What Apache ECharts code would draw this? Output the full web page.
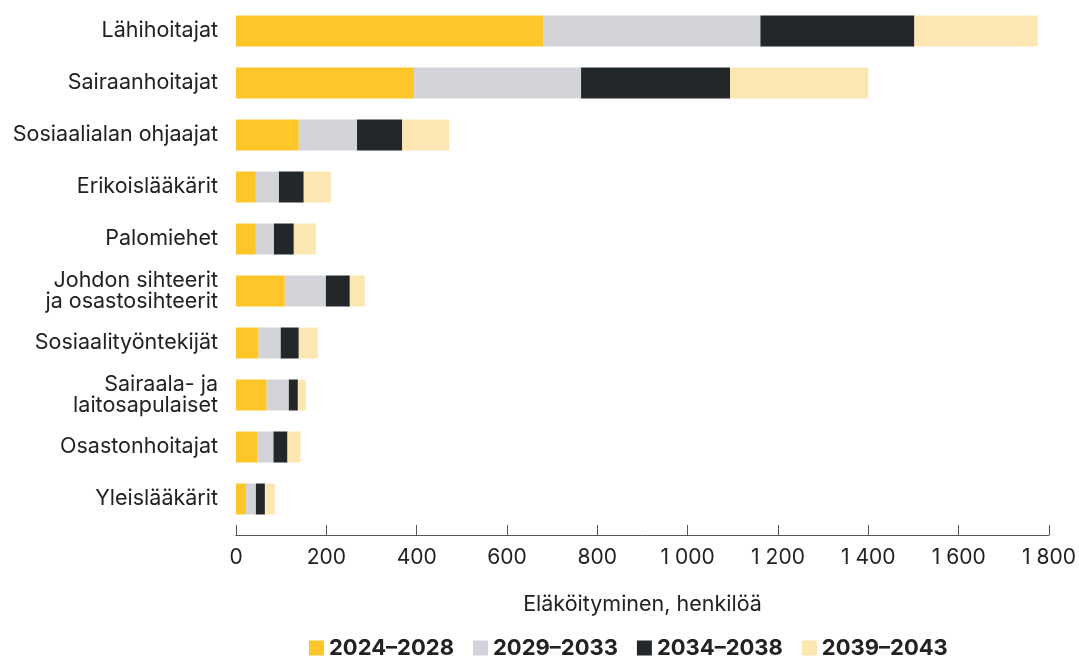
<!DOCTYPE html>
<html>
<head>
<meta charset="utf-8">
<script src="https://cdn.jsdelivr.net/npm/echarts@6/dist/echarts.min.js"></script>
<style>
  html, body { margin: 0; padding: 0; background: #fff; }
  #main { width: 1079px; height: 659px; }
</style>
</head>
<body>
<div id="main"></div>
<script>
// ammattiryhmät ja eläköityvät henkilöt viiden vuoden jaksoissa
var categories = ['Lähihoitajat', 'Sairaanhoitajat', 'Sosiaalialan ohjaajat', 'Erikoislääkärit', 'Palomiehet',
    'Johdon sihteerit\nja osastosihteerit', 'Sosiaalityöntekijät', 'Sairaala- ja\nlaitosapulaiset',
    'Osastonhoitajat', 'Yleislääkärit'];
var periods = ['2024–2028', '2029–2033', '2034–2038', '2039–2043'];
var v2024 = [680, 394, 139, 44, 44, 108, 50, 68, 48, 22];
var v2029 = [481, 370, 129, 51, 40, 91, 49, 49, 35, 22];
var v2034 = [341, 330, 100, 55, 44, 53, 40, 20, 31, 20];
var v2039 = [273, 306, 104, 60, 49, 33, 42, 18, 29, 22];
var colors = ['#fec628', '#d3d4d9', '#22272a', '#fce7b2'];

var font = 'Inter, "Noto Sans", sans-serif';
var chart = echarts.init(document.getElementById('main'));

var seriesData = [v2024, v2029, v2034, v2039];
var series = [];
for (var i = 0; i < periods.length; i++) {
    series.push({
        name: periods[i],
        type: 'bar',
        stack: 'total',
        barWidth: 31,
        itemStyle: { color: colors[i] },
        data: seriesData[i]
    });
}

chart.setOption({
    animation: false,
    textStyle: { fontFamily: font },
    grid: { left: 236, right: 30, top: 5, bottom: 134 },
    legend: {
        left: 309,
        top: 637,
        padding: 0,
        icon: 'rect',
        itemWidth: 15,
        itemHeight: 15,
        itemGap: 19,
        textStyle: { fontSize: 22, fontWeight: 'bold', color: '#222', fontFamily: font },
        data: periods
    },
    xAxis: {
        type: 'value',
        min: 0,
        max: 1800,
        interval: 200,
        offset: 10,
        name: 'Eläköityminen, henkilöä',
        nameLocation: 'middle',
        nameGap: 59,
        nameTextStyle: { fontSize: 21.5, color: '#222', fontFamily: font },
        axisLine: { show: true, lineStyle: { color: '#555', width: 1 } },
        axisTick: { show: true, inside: true, length: 10, lineStyle: { color: '#555' } },
        splitLine: { show: false },
        axisLabel: {
            fontSize: 21,
            color: '#222',
            margin: 12,
            formatter: function (v) {
                return String(v).replace(/\B(?=(\d{3})+(?!\d))/g, '\u00a0');
            }
        }
    },
    yAxis: {
        type: 'category',
        inverse: true,
        data: categories,
        axisLine: { show: false },
        axisTick: { show: false },
        axisLabel: { fontSize: 21.5, color: '#222', margin: 18, lineHeight: 21 }
    },
    series: series
});
</script>
</body>
</html>
